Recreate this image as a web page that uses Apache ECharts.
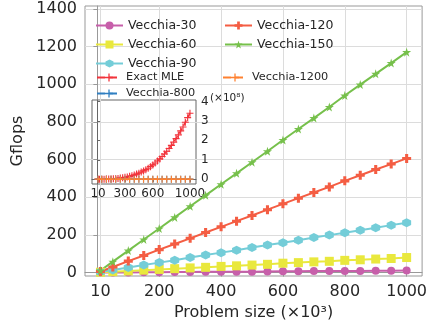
<!DOCTYPE html>
<html>
<head>
<meta charset="utf-8">
<script src="https://cdn.jsdelivr.net/npm/echarts@6/dist/echarts.min.js"></script>
<style>
    html, body { margin: 0; padding: 0; background: #fff; }
    #chart { width: 430px; height: 332px; }
</style>
</head>
<body>
<div id="chart"></div>
<script>
// problem size (x10^3)
const sizes = [10, 50, 100, 150, 200, 250, 300, 350, 400, 450, 500, 550, 600, 650, 700, 750, 800, 850, 900, 950, 1000];
const v30 = [0, 1, 1, 2, 2, 3, 3, 4, 4, 5, 5, 6, 7, 7, 8, 8, 9, 9, 10, 10, 11];
const v60 = [2, 5, 9, 13, 17, 21, 25, 28, 33, 36, 40, 44, 50, 53, 57, 60, 65, 68, 72, 75, 80];
const v90 = [3, 14, 27, 40, 53, 66, 80, 93, 106, 119, 133, 146, 159, 172, 186, 199, 212, 225, 238, 252, 265];
const v120 = [6, 30, 61, 91, 122, 152, 182, 213, 243, 273, 303, 334, 365, 395, 425, 455, 487, 517, 547, 576, 606];
const v150 = [11, 58, 117, 176, 234, 293, 352, 410, 469, 527, 586, 644, 704, 762, 820, 879, 940, 998, 1055, 1112, 1170];

// inset (x10^8)
const mleSizes = [10, 25, 50, 75, 100, 125, 150, 175, 200, 225, 250, 275, 300, 325, 350, 375, 400, 425, 450, 475, 500,
    525, 550, 575, 600, 625, 650, 675, 700, 725, 750, 775, 800, 825, 850, 875, 900, 925, 950, 975, 1000];
const exactMle = [0, 0, 0, 0.001, 0.003, 0.007, 0.011, 0.018, 0.027, 0.039, 0.053, 0.071, 0.092, 0.117, 0.146, 0.18, 0.218,
    0.261, 0.31, 0.365, 0.425, 0.49, 0.565, 0.645, 0.735, 0.83, 0.935, 1.045, 1.165, 1.295, 1.435, 1.58, 1.74, 1.91,
    2.09, 2.28, 2.49, 2.69, 2.93, 3.17, 3.40];
const v800 = [0, 0, 0, 0, 0, 0, 0, 0, 0, 0, 0, 0, 0, 0, 0, 0, 0, 0, 0, 0, 0];
const v1200 = [0, 0, 0, 0, 0, 0, 0, 0, 0, 0, 0, 0, 0, 0, 0, 0, 0, 0, 0, 0, 0];

const xTicks = [10, 200, 400, 600, 800, 1000];
const yTicks = [0, 200, 400, 600, 800, 1000, 1200, 1400];
const insetXTicks = [10, 300, 600, 1000];
const insetYTicks = [0, 1, 2, 3, 4];

const FONT = "DejaVu Sans";
const STAR = "path://M50,0 L61,35 L98,35 L68,57 L79,91 L50,70 L21,91 L32,57 L2,35 L39,35 Z";
const HEX = "path://M50,0 L93,25 L93,75 L50,100 L7,75 L7,25 Z";
const PFILL = "path://M33,0H67V33H100V67H67V100H33V67H0V33H33Z";
const PLUS = "path://M42,0H58V42H100V58H58V100H42V58H0V42H42Z";

const pair = (xs, ys) => xs.map((x, i) => [x, ys[i]]);
const plain = v => String(v);

const mainLine = (name, data, color, symbol, size) => ({
    name: name,
    type: "line",
    xAxisIndex: 0,
    yAxisIndex: 0,
    data: pair(sizes, data),
    symbol: symbol,
    symbolSize: size,
    showSymbol: true,
    itemStyle: { color: color },
    lineStyle: { color: color, width: 2 },
    z: 3
});

const insetLine = (name, xs, data, color, z) => ({
    name: name,
    type: "line",
    xAxisIndex: 1,
    yAxisIndex: 1,
    data: pair(xs, data),
    symbol: PLUS,
    symbolSize: 7,
    itemStyle: { color: color },
    lineStyle: { color: color, width: 1.5, type: "dashed" },
    z: z
});

const legendBase = {
    orient: "vertical",
    itemWidth: 27,
    itemHeight: 10,
    textStyle: { fontFamily: FONT, fontSize: 12.5, color: "#262626" },
    itemGap: 6,
    padding: 0
};

let chart = echarts.init(document.getElementById("chart"));

chart.setOption({
    animation: false,
    backgroundColor: "#fff",
    grid: [
        { left: 85, right: 6, top: 6, bottom: 56, show: true, borderColor: "#999", borderWidth: 1 },
        { left: 92, right: 234, top: 100, bottom: 148, show: true, borderColor: "#666", borderWidth: 1 }
    ],
    legend: [
        Object.assign({}, legendBase, { left: 95, top: 19, data: ["Vecchia-30", "Vecchia-60", "Vecchia-90"] }),
        Object.assign({}, legendBase, { left: 224, top: 19, data: ["Vecchia-120", "Vecchia-150"] }),
        Object.assign({}, legendBase, {
            left: 96, top: 72, itemGap: 5, itemWidth: 24,
            textStyle: { fontFamily: FONT, fontSize: 11.3, color: "#262626" },
            data: ["Exact MLE", "Vecchia-800"]
        }),
        Object.assign({}, legendBase, {
            left: 222, top: 72, itemWidth: 24,
            textStyle: { fontFamily: FONT, fontSize: 11.3, color: "#262626" },
            data: ["Vecchia-1200"]
        })
    ],
    xAxis: [
        {
            gridIndex: 0,
            type: "value",
            min: -40,
            max: 1050,
            name: "Problem size (×10³)",
            nameLocation: "middle",
            nameGap: 29,
            nameTextStyle: { fontFamily: FONT, fontSize: 16, color: "#262626" },
            axisLine: { show: true, lineStyle: { color: "#999" } },
            axisTick: { show: true, length: 4, customValues: xTicks, lineStyle: { color: "#999" } },
            axisLabel: { customValues: xTicks, formatter: plain, margin: 8, fontFamily: FONT, fontSize: 16, color: "#262626" },
            splitLine: { show: true, lineStyle: { color: "#dcdcdc" } }
        },
        {
            gridIndex: 1,
            type: "value",
            min: -55,
            max: 1065,
            axisLine: { show: true, lineStyle: { color: "#666" } },
            axisTick: { show: true, length: 3, customValues: insetXTicks, lineStyle: { color: "#666" } },
            axisLabel: { customValues: insetXTicks, formatter: plain, margin: 4, fontFamily: FONT, fontSize: 12, color: "#262626" },
            splitLine: { show: false }
        }
    ],
    yAxis: [
        {
            gridIndex: 0,
            type: "value",
            min: -18,
            max: 1415,
            name: "Gflops",
            nameLocation: "middle",
            nameGap: 48,
            nameTextStyle: { fontFamily: FONT, fontSize: 16, color: "#262626" },
            axisLine: { show: true, lineStyle: { color: "#999" } },
            axisTick: { show: true, length: 4, customValues: yTicks, lineStyle: { color: "#999" } },
            axisLabel: { customValues: yTicks, formatter: plain, margin: 8, fontFamily: FONT, fontSize: 16, color: "#262626" },
            splitLine: { show: true, lineStyle: { color: "#dcdcdc" } }
        },
        {
            gridIndex: 1,
            type: "value",
            position: "right",
            min: -0.25,
            max: 4.08,
            axisLine: { show: true, lineStyle: { color: "#666" } },
            axisTick: { show: true, length: 3, customValues: insetYTicks, lineStyle: { color: "#666" } },
            axisLabel: { customValues: insetYTicks, formatter: plain, margin: 5, fontFamily: FONT, fontSize: 12, color: "#262626" },
            splitLine: { show: false }
        }
    ],
    graphic: [
        {
            type: "text",
            left: 210,
            top: 93,
            style: { text: "(×10⁸)", fontFamily: FONT, fontSize: 10.5, fill: "#262626" }
        }
    ],
    series: [
        mainLine("Vecchia-30", v30, "#c75faa", "circle", 8),
        mainLine("Vecchia-60", v60, "#e9e83d", "rect", 9),
        mainLine("Vecchia-90", v90, "#74cdd8", HEX, 9),
        mainLine("Vecchia-120", v120, "#f45d43", PFILL, 9),
        mainLine("Vecchia-150", v150, "#76c04b", STAR, 9),
        insetLine("Exact MLE", mleSizes, exactMle, "#f2333b", 4),
        insetLine("Vecchia-800", sizes, v800, "#2f7fc1", 4),
        insetLine("Vecchia-1200", sizes, v1200, "#ff8130", 5)
    ]
});
</script>
</body>
</html>
